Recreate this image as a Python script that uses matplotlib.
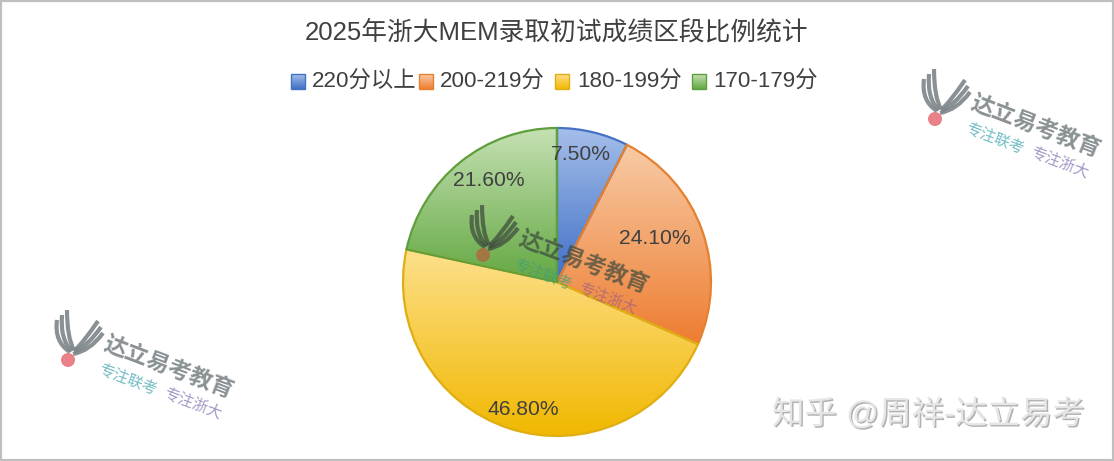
import numpy as np
import matplotlib
matplotlib.use('Agg')
import matplotlib.pyplot as plt
import matplotlib.patheffects as pe
from matplotlib.colors import LinearSegmentedColormap
from matplotlib.patches import Circle, PathPatch, Rectangle
from matplotlib.path import Path

plt.rcParams['font.family'] = ['Liberation Sans', 'Noto Sans CJK SC', 'DejaVu Sans']

title = '2025年浙大MEM录取初试成绩区段比例统计'
categories = ['220分以上', '200-219分', '180-199分', '170-179分']
values = [7.5, 24.1, 46.8, 21.6]

# 색상: 위쪽 밝은색, 아래쪽 진한색, 테두리
tops = ['#a6bfea', '#f8cba6', '#fde08c', '#c6e1b4']
bottoms = ['#3f6fc6', '#ee7d31', '#f1b800', '#63a842']
edges = ['#4472c4', '#e5802f', '#e0ad12', '#5f9e3c']
text_col = '#404040'

W, H = 1114, 461
fig = plt.figure(figsize=(W / 100, H / 100), dpi=100)
ax = fig.add_axes([0, 0, 1, 1])
ax.axis('off')


def py(y):
    # 이미지 좌표(y 아래로)를 축 좌표로
    return H - y


def gradient(patch, box, top, bottom, z):
    cmap = LinearSegmentedColormap.from_list('g', [top, bottom])
    grad = np.linspace(0, 1, 256).reshape(-1, 1)
    im = ax.imshow(grad, cmap=cmap, extent=box, origin='upper', aspect='auto', zorder=z)
    im.set_clip_path(patch)


def watermark(x, y, dot, gray, teal, purple, alpha=1.0):
    # x, y 는 로고 아래 빨간 점의 위치
    leaves = [[(-11, 40), (-14, 18), (2, 8)], [(-6, 45), (-8, 20), (4, 9)],
              [(-1, 50), (-1, 22), (6, 10)], [(35, 27), (22, 9), (5, 6)],
              [(33, 33), (19, 13), (6, 8)], [(30, 39), (15, 17), (7, 10)]]
    for p0, p1, p2 in leaves:
        pts = [(x + a, py(y) + b) for a, b in (p0, p1, p2)]
        path = Path(pts, [Path.MOVETO, Path.CURVE3, Path.CURVE3])
        ax.add_patch(PathPatch(path, fc='none', ec=gray, lw=3, alpha=alpha, zorder=6, capstyle='butt'))
    ax.add_patch(Circle((x, py(y)), 7, fc=dot, ec='none', alpha=alpha, zorder=6))
    ax.text(x + 37, py(y - 17), '达立易考教育', fontsize=16.5, fontweight='bold', color=gray, alpha=alpha,
            rotation=-21, rotation_mode='anchor', va='center', ha='left', zorder=6)
    ax.text(x + 34, py(y - 1) - 3, '专注联考', fontsize=11, color=teal, alpha=alpha, style='italic',
            rotation=-21, rotation_mode='anchor', va='top', ha='left', zorder=6)
    ax.text(x + 99, py(y + 23) - 3, '专注浙大', fontsize=11, color=purple, alpha=alpha, style='italic',
            rotation=-21, rotation_mode='anchor', va='top', ha='left', zorder=6)


# 배경, 테두리
ax.add_patch(Rectangle((0, 0), W, H, fc='white', ec='#bfbfbf', lw=3, zorder=0))

# 파이
center = (557, py(282))
radius = 154
wedges, _ = ax.pie(values, startangle=90, counterclock=False, center=center, radius=radius, frame=True,
                   wedgeprops=dict(lw=1.6))
for w, top, bottom, edge in zip(wedges, tops, bottoms, edges):
    w.set_facecolor('none')
    w.set_edgecolor(edge)
    w.set_zorder(3)
    ext = w.get_path().transformed(w.get_patch_transform()).get_extents()
    gradient(w, (ext.x0, ext.x1, ext.y0, ext.y1), top, bottom, 2)

label_x = [581, 655, 523, 489]
label_y = [154, 238, 409, 180]
for v, x, y in zip(values, label_x, label_y):
    ax.text(x, py(y), f'{v:.2f}%', fontsize=15.2, color=text_col, ha='center', va='center', zorder=7)

# 제목, 범례
ax.text(557, py(32), title, fontsize=18.5, color=text_col, ha='center', va='center', zorder=7)

handle_x = [291, 419, 555, 692]
text_x = [312, 440, 577, 713]
for name, hx, tx, top, bottom, edge in zip(categories, handle_x, text_x, tops, bottoms, edges):
    box = Rectangle((hx, py(89)), 14, 15, fc='none', ec=edge, lw=1.0, zorder=5)
    ax.add_patch(box)
    gradient(box, (hx, hx + 14, py(89), py(74)), top, bottom, 4)
    ax.text(tx, py(82), name, fontsize=16.1, color=text_col, ha='left', va='center', zorder=7)

# 워터마크
watermark(68, 360, '#e8737c', '#7d8588', '#62b5bd', '#9a8cc0', 0.9)
watermark(935, 119, '#e8737c', '#7d8588', '#62b5bd', '#9a8cc0', 0.9)
watermark(483, 255, '#b5603c', '#3d4a3d', '#3f9f78', '#a0607f', 0.72)

ax.text(772, py(415), '知乎 @周祥-达立易考', fontsize=23.4, color='#e6e6e6', ha='left', va='center', zorder=7,
        path_effects=[pe.withSimplePatchShadow(offset=(1, -1), shadow_rgbFace='#a8a8a8', alpha=0.9)])

ax.set_xlim(0, W)
ax.set_ylim(0, H)
ax.set_aspect('auto')
fig.savefig('out.png', dpi=100)
